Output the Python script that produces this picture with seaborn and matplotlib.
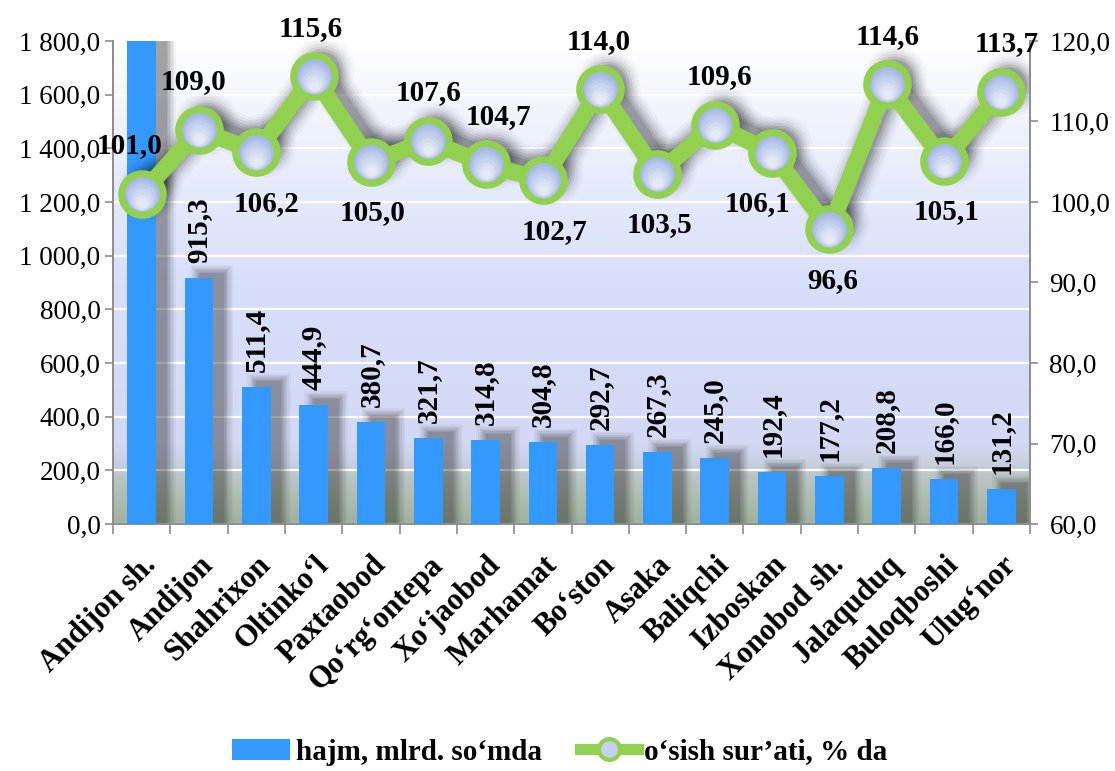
import numpy as np
import pandas as pd
import matplotlib
matplotlib.use("Agg")
import matplotlib.pyplot as plt
import seaborn as sns
from matplotlib import transforms
from matplotlib.colors import LinearSegmentedColormap
from matplotlib.patches import Patch
from matplotlib.lines import Line2D

# ---------------- data ----------------
districts = ["Andijon sh.", "Andijon", "Shahrixon", "Oltinko‘l", "Paxtaobod",
             "Qo‘rg‘ontepa", "Xo‘jaobod", "Marhamat", "Bo‘ston", "Asaka",
             "Baliqchi", "Izboskan", "Xonobod sh.", "Jalaquduq", "Buloqboshi",
             "Ulug‘nor"]
# first bar runs off the top of the axis (value not shown) - estimated
volume = [2600.0, 915.3, 511.4, 444.9, 380.7, 321.7, 314.8, 304.8, 292.7,
          267.3, 245.0, 192.4, 177.2, 208.8, 166.0, 131.2]
growth = [101.0, 109.0, 106.2, 115.6, 105.0, 107.6, 104.7, 102.7, 114.0,
          103.5, 109.6, 106.1, 96.6, 114.6, 105.1, 113.7]
volume_name = "hajm, mlrd. so‘mda"
growth_name = "o‘sish sur’ati, % da"
left_ticks = [0, 200, 400, 600, 800, 1000, 1200, 1400, 1600, 1800]
right_ticks = [60, 70, 80, 90, 100, 110, 120]

# label placement for growth labels (pixels)
growth_label_dx = [-12, -5, 10, -3, 2, 0, 13, 12, -1, 2, 5, -15, 3, 1, 3, 5]
growth_label_above = [True, True, False, True, False, True, True, False,
                      True, False, True, False, False, True, False, True]


def fmt(v):
    return f"{v:,.1f}".replace(",", " ").replace(".", ",")


plt.rcParams["font.family"] = ["Liberation Serif", "DejaVu Serif"]

BAR = "#3399ff"
GREEN = "#92d050"

df = pd.DataFrame({"pos": np.arange(len(districts)), "district": districts,
                   "volume": volume, "growth": growth})

fig = plt.figure(figsize=(11.15, 7.71), dpi=100)
ax = fig.add_axes([113 / 1115, 1 - 524 / 771, (1030 - 113) / 1115, (524 - 41) / 771])

# background gradient
stops = [(0.0, "#a0b19e"), (0.05, "#aebcaf"), (0.10, "#bcc6c6"),
         (0.125, "#c9d0e2"), (0.17, "#d3d9f4"), (0.5, "#d8dffb"),
         (0.8, "#edf0fd"), (1.0, "#ffffff")]
cmap = LinearSegmentedColormap.from_list("bg", stops)
grad = np.linspace(0, 1, 512).reshape(-1, 1)
ax.imshow(grad, cmap=cmap, origin="lower", extent=[0, 1, 0, 1],
          transform=ax.transAxes, aspect="auto", zorder=0)

x = df["pos"].to_numpy()
vol = df["volume"].to_numpy()

# blurred bar shadows
for spread, lift, a in [(0.0, 20, 0.10), (0.05, 25, 0.09), (0.10, 30, 0.08),
                        (0.15, 35, 0.07), (0.20, 40, 0.06), (0.26, 45, 0.05),
                        (0.32, 50, 0.04)]:
    ax.bar(x + 0.22, vol + lift, width=0.44 + spread, color="#202020", alpha=a,
           linewidth=0, zorder=1.5)

sns.barplot(data=df, x="pos", y="volume", native_scale=True, color=BAR,
            saturation=1, width=0.5, errorbar=None, ax=ax, zorder=3,
            linewidth=0)

ax.set_xlim(-0.5, len(districts) - 0.5)
ax.set_ylim(0, 1800)
ax.set_axisbelow(True)
ax.yaxis.grid(True, color="white", lw=1.6)
ax.xaxis.grid(False)

for i, v in enumerate(volume):
    if v <= 1800:
        ax.annotate(fmt(v), (i, v), xytext=(0, 15), textcoords="offset pixels",
                    rotation=90, ha="center", va="bottom", fontsize=21,
                    fontweight="bold", zorder=4)

ax.set_yticks(left_ticks)
ax.set_yticklabels([fmt(t) for t in left_ticks], fontsize=19.5)
ax.set_xticks(x)
ax.set_xticklabels(districts, rotation=45, ha="right", rotation_mode="anchor",
                   fontsize=22, fontweight="bold")
ax.set_xticks(np.arange(-0.5, len(districts), 1), minor=True)
ax.tick_params(axis="x", which="major", length=0, pad=19)
ax.tick_params(axis="x", which="minor", length=7, color="#8c8c8c", width=1.2)
ax.tick_params(axis="y", length=6, color="#8c8c8c", width=1.2, pad=3)
ax.set_xlabel("")
ax.set_ylabel("")
for s in ["top", "right"]:
    ax.spines[s].set_visible(False)
for s in ["left", "bottom"]:
    ax.spines[s].set_color("#8c8c8c")
    ax.spines[s].set_linewidth(1.4)

# secondary axis: growth line
ax2 = ax.twinx()
ax2.set_ylim(60, 120)
ax2.patch.set_visible(False)

for lw, a in [(30, 0.03), (26, 0.04), (22, 0.06), (18, 0.08), (14, 0.1), (10, 0.12)]:
    tr = transforms.offset_copy(ax2.transData, fig=fig, x=8, y=7, units="dots")
    ax2.plot(x, growth, color="black", lw=lw, alpha=a, transform=tr,
             solid_capstyle="round", solid_joinstyle="round", zorder=1)
    ax2.plot(x, growth, "o", color="black", ms=lw + 16, alpha=a * 0.8, mew=0,
             transform=tr, zorder=1)

sns.lineplot(data=df, x="pos", y="growth", ax=ax2, color=GREEN, lw=12,
             marker="o", ms=30, mfc="#a4b8e4", mec=GREEN, mew=5, zorder=5,
             legend=False)
for ms, off, col in [(23, -1.5, "#adbfe7"), (21, -2.5, "#b6c6ea"),
                     (19, -3.5, "#bfcdec"), (16, -5, "#c9d4ef"),
                     (13, -6.5, "#d3dcf1"), (10, -8, "#dde3f3"),
                     (7, -9.5, "#e5e9f4")]:
    tr = transforms.offset_copy(ax2.transData, fig=fig, x=0, y=off, units="dots")
    ax2.plot(x, growth, "o", color=col, ms=ms, mew=0, transform=tr, zorder=5.5)

for i, g in enumerate(growth):
    dy = 48 if growth_label_above[i] else -51
    ax2.annotate(fmt(g), (i, g), xytext=(growth_label_dx[i], dy),
                 textcoords="offset pixels", ha="center", va="center",
                 fontsize=21, fontweight="bold", zorder=7)

ax2.set_yticks(right_ticks)
ax2.set_yticklabels([fmt(t) for t in right_ticks], fontsize=19.5)
ax2.tick_params(axis="y", length=6, color="#8c8c8c", width=1.2, pad=8)
ax2.set_ylabel("")
ax2.set_xlabel("")
for s in ["top", "left", "bottom"]:
    ax2.spines[s].set_visible(False)
ax2.spines["right"].set_color("#8c8c8c")
ax2.spines["right"].set_linewidth(1.4)
ax2.set_xlim(-0.5, len(districts) - 0.5)

handles = [Patch(facecolor=BAR, edgecolor="none"),
           Line2D([0], [0], color=GREEN, lw=8, marker="o", ms=15,
                  mfc="#c4d0ee", mec=GREEN, mew=3)]
fig.legend(handles, [volume_name, growth_name], loc="center",
           bbox_to_anchor=(0.502, 1 - 752 / 771), ncol=2, frameon=False,
           prop={"weight": "bold", "size": 21}, handlelength=2.0,
           columnspacing=1.3, handletextpad=0.2)

fig.savefig("out.png", dpi=100)
